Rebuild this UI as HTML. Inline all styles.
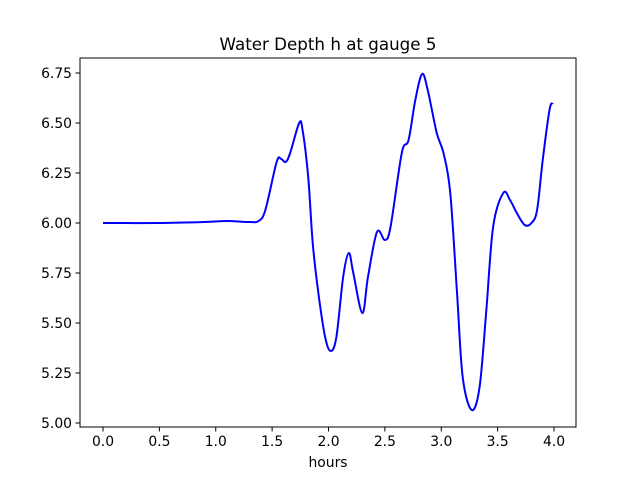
<!DOCTYPE html>
<html><head><meta charset="utf-8"><style>
html,body{margin:0;padding:0;background:#fff;}
svg text{font-family:"DejaVu Sans","Liberation Sans",sans-serif;fill:#000;}
</style></head><body>
<svg id="chart" width="640" height="480" xmlns="http://www.w3.org/2000/svg">
<rect x="0" y="0" width="640" height="480" fill="#fff"/>
<text x="328" y="50" font-size="16.7" text-anchor="middle">Water Depth h at gauge 5</text>
<g id="xticks"></g>
<g id="yticks"></g>
<path id="line" fill="none" stroke="#0000ff" stroke-width="2" stroke-linejoin="round"/>
<rect x="80" y="58" width="496" height="369" fill="none" stroke="#000" stroke-width="1"/>
<text x="328" y="467" font-size="13.9" text-anchor="middle">hours</text>
</svg>
<script>
const hours = [0,0.5,0.9,1.1,1.3,1.38,1.44,1.54,1.58,1.62,1.66,1.74,1.77,1.82,1.86,1.91,1.97,2.02,2.07,2.13,2.18,2.22,2.30,2.35,2.43,2.50,2.55,2.65,2.71,2.77,2.83,2.88,2.96,3.02,3.08,3.14,3.19,3.27,3.34,3.40,3.46,3.55,3.61,3.67,3.74,3.80,3.85,3.90,3.96,3.99];
const depth = [6.0,6.0,6.005,6.01,6.005,6.01,6.065,6.305,6.32,6.305,6.35,6.50,6.465,6.23,5.90,5.65,5.43,5.36,5.43,5.73,5.85,5.75,5.55,5.73,5.955,5.915,5.98,6.35,6.415,6.615,6.745,6.665,6.45,6.35,6.15,5.65,5.23,5.065,5.18,5.565,5.98,6.15,6.115,6.05,5.99,6.0,6.065,6.315,6.565,6.60];
const xTickVals = [0,0.5,1,1.5,2,2.5,3,3.5,4];
const yTickVals = [5.0,5.25,5.5,5.75,6.0,6.25,6.5,6.75];
const NS='http://www.w3.org/2000/svg';
function sx(v){return 103+v*112.75;}
function sy(v){return 223-(v-6)*200;}
const xg=document.getElementById('xticks'), yg=document.getElementById('yticks');
xTickVals.forEach(v=>{
  const l=document.createElementNS(NS,'line');
  
  
  l.setAttribute('x1',sx(v));l.setAttribute('x2',sx(v));l.setAttribute('y1',427);l.setAttribute('y2',431.5);l.setAttribute('stroke','#000');
  xg.appendChild(l);
  const t=document.createElementNS(NS,'text');
  
  
  t.setAttribute('x',sx(v));t.setAttribute('y',446);t.setAttribute('font-size','13.9');t.setAttribute('text-anchor','middle');
  t.textContent=v.toFixed(1);xg.appendChild(t);
});
yTickVals.forEach(v=>{
  const l=document.createElementNS(NS,'line');
  
  
  l.setAttribute('x1',75.5);l.setAttribute('x2',80);l.setAttribute('y1',sy(v));l.setAttribute('y2',sy(v));l.setAttribute('stroke','#000');
  yg.appendChild(l);
  const t=document.createElementNS(NS,'text');
  
  
  t.setAttribute('x',72);t.setAttribute('y',sy(v)+5);t.setAttribute('font-size','13.9');t.setAttribute('text-anchor','end');
  t.textContent=v.toFixed(2);yg.appendChild(t);
});
const pts=hours.map((h,i)=>[sx(h),sy(depth[i])]);
let d='M'+pts[0][0]+','+pts[0][1];
for(let i=0;i<pts.length-1;i++){
  const p0=pts[Math.max(i-1,0)],p1=pts[i],p2=pts[i+1],p3=pts[Math.min(i+2,pts.length-1)];
  const c1=[p1[0]+(p2[0]-p0[0])/6,p1[1]+(p2[1]-p0[1])/6];
  const c2=[p2[0]-(p3[0]-p1[0])/6,p2[1]-(p3[1]-p1[1])/6];
  d+=' C'+c1[0]+','+c1[1]+' '+c2[0]+','+c2[1]+' '+p2[0]+','+p2[1];
}
document.getElementById('line').setAttribute('d',d);
</script>
</body></html>
